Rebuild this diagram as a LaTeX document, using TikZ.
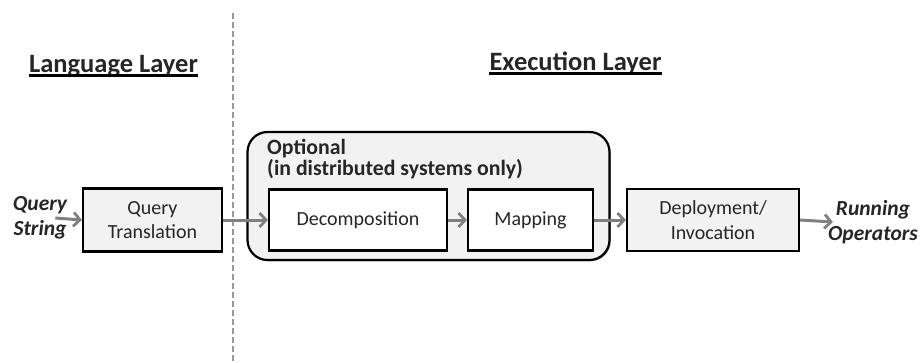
\documentclass[tikz,border=0pt]{standalone}
\usepackage{fontspec}
\setmainfont{Carlito}
\usetikzlibrary{arrows.meta,shadows}
\definecolor{boxgray}{HTML}{F2F2F2}
\definecolor{arrowgray}{HTML}{808080}
\definecolor{txt}{HTML}{262626}
\tikzset{
  box/.style={draw=black, line width=2.2pt, fill=boxgray, text=txt, align=center,
    font=\fontsize{20}{24.5}\selectfont, inner sep=0pt,
    drop shadow={shadow xshift=1.3pt, shadow yshift=-1.3pt, fill=black, opacity=0.35}},
  whitebox/.style={box, fill=white},
  flow/.style={draw=arrowgray, line width=3pt, -{Straight Barb[length=6.5pt,width=14pt,line width=2.8pt]}},
  heading/.style={font=\fontsize{26.5}{30}\selectfont\bfseries, text=txt, inner sep=0pt, anchor=base},
  io/.style={font=\fontsize{21.5}{25}\selectfont\bfseries\itshape, text=txt, align=center, inner sep=0pt},
}
\begin{document}
\begin{tikzpicture}[x=1pt,y=-1pt]
\useasboundingbox (0,0) rectangle (920,362);
% divider
\coordinate (divtop) at (233,13);
\coordinate (divbot) at (233,362);
\draw[dash pattern=on 6pt off 3pt, line width=2.2pt, black!40] (divtop) -- (divbot);
% headings
\node[heading] (ll) at (113.5,72) {Language Layer};
\node[heading] (el) at (575.5,70) {Execution Layer};
\draw[line width=3pt, black] ([yshift=-3.5pt]ll.base west) -- ([yshift=-3.5pt]ll.base east);
\draw[line width=3pt, black] ([yshift=-3.5pt]el.base west) -- ([yshift=-3.5pt]el.base east);
% optional container
\node[box, rounded corners=20pt, minimum width=362pt, minimum height=128pt] (opt) at (428.5,196) {};
\node[anchor=north west, align=left, inner sep=0pt, text=txt,
      font=\fontsize{21.8}{21}\selectfont\bfseries] (optlbl) at (267,139)
      {Optional\\(in distributed systems only)};
% boxes
\node[box, minimum width=139pt, minimum height=63pt] (qt) at (152.5,220) {Query\\Translation};
\node[whitebox, minimum width=178pt, minimum height=61pt] (dec) at (358,220) {Decomposition};
\node[whitebox, minimum width=125pt, minimum height=61pt] (map) at (530.5,220) {Mapping};
\node[box, minimum width=172pt, minimum height=62pt] (dep) at (713,220) {Deployment/\\Invocation};
% inputs/outputs
\node[io] (qs) at (40,218) {Query\\String};
\node[io] (ro) at (873,222) {Running\\Operators};
% connectors
\draw[flow] ([xshift=-12pt]qs.east) -- (qt.west);
\draw[flow] (qt.east) -- (dec.west);
\draw[flow] (dec.east) -- (map.west);
\draw[flow] (map.east) -- (dep.west);
\draw[flow] (dep.east) -- ([xshift=5pt]ro.west);
\end{tikzpicture}
\end{document}
